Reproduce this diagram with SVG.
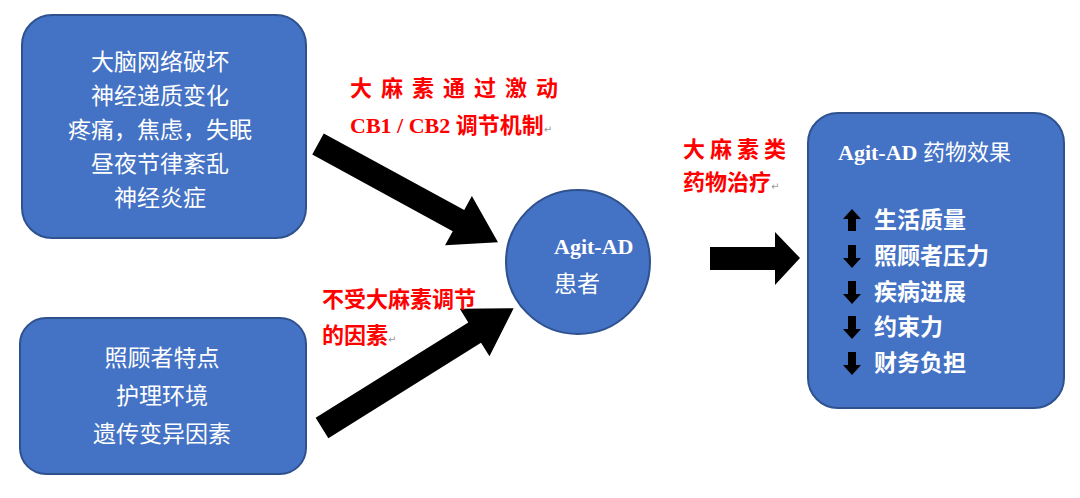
<svg xmlns="http://www.w3.org/2000/svg" width="1080" height="498" viewBox="0 0 1080 498">
<style>
.box{fill:#4472C4;stroke:#2F528F;stroke-width:2}
.w{fill:#fff;font-family:"Noto Sans CJK SC",sans-serif;font-size:23px}
.wb{fill:#fff;font-family:"Liberation Serif","Noto Sans CJK SC",serif;font-size:22px;font-weight:bold}
.r{fill:#FF0000;font-family:"Liberation Serif","Noto Sans CJK SC",serif;font-size:22px;font-weight:bold}
.k{fill:#000}
.m{fill:#999;font-family:"DejaVu Sans",sans-serif;font-size:10px;font-weight:normal}
</style>
<rect width="1080" height="498" fill="#fff"/>
<g id="connectors">
<polygon class="k" points="0,-12 160,-12 160,-28 205,0 160,28 160,12 0,12" transform="translate(318,144) rotate(28.6)"/>
<polygon class="k" points="0,-12 180,-12 180,-28 226,0 180,28 180,12 0,12" transform="translate(322,428) rotate(-32)"/>
<polygon class="k" points="710,247 775,247 775,232 800,258 775,285 775,270 710,270"/>
</g>
<g id="box1">
<rect class="box" x="22" y="15" width="284" height="223" rx="30"/>
<g class="w" text-anchor="middle">
<text x="160" y="70">大脑网络破坏</text>
<text x="160" y="104">神经递质变化</text>
<text x="160" y="138">疼痛，焦虑，失眠</text>
<text x="160" y="172">昼夜节律紊乱</text>
<text x="160" y="206">神经炎症</text>
</g>
</g>
<g id="box2">
<rect class="box" x="20" y="318" width="286" height="156" rx="26"/>
<g class="w" text-anchor="middle">
<text x="162" y="366">照顾者特点</text>
<text x="162" y="404">护理环境</text>
<text x="162" y="442">遗传变异因素</text>
</g>
</g>
<g id="patient">
<circle class="box" cx="578" cy="262" r="72"/>
<text class="wb" x="554" y="254">Agit-AD</text>
<text class="w" x="554" y="292" font-size="24">患者</text>
</g>
<g id="box3">
<rect class="box" x="808" y="113" width="256" height="295" rx="30"/>
<text class="wb" x="838" y="160" font-size="18">Agit-AD <tspan font-family="Noto Sans CJK SC" font-weight="normal">药物效果</tspan></text>
<g class="k">
<polygon points="852,209 861,219 856,219 856,231 848,231 848,219 843,219"/>
<polygon points="852,268 861,258 856,258 856,245 848,245 848,258 843,258"/>
<polygon points="852,304 861,294 856,294 856,281 848,281 848,294 843,294"/>
<polygon points="852,339 861,329 856,329 856,316 848,316 848,329 843,329"/>
<polygon points="852,375 861,365 856,365 856,352 848,352 848,365 843,365"/>
</g>
<g class="w" font-weight="bold" font-size="21">
<text x="874" y="228">生活质量</text>
<text x="874" y="264">照顾者压力</text>
<text x="874" y="300">疾病进展</text>
<text x="874" y="335">约束力</text>
<text x="874" y="371">财务负担</text>
</g>
</g>
<g id="labels">
<text class="r" x="350" y="96" letter-spacing="9">大麻素通过激动</text>
<text class="r" x="350" y="133">CB1 / CB2 调节机制<tspan class="m">↵</tspan></text>
<text class="r" x="322" y="307">不受大麻素调节</text>
<text class="r" x="322" y="343">的因素<tspan class="m">↵</tspan></text>
<text class="r" x="683" y="157" letter-spacing="5">大麻素类</text>
<text class="r" x="683" y="190">药物治疗<tspan class="m">↵</tspan></text>
</g>
</svg>
